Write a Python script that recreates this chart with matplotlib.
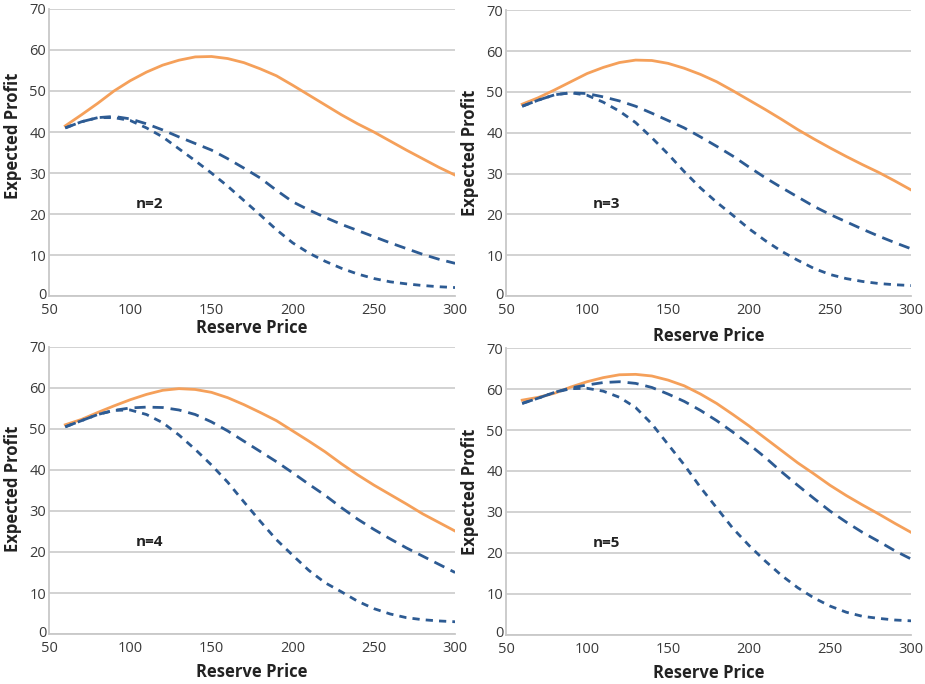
import matplotlib
matplotlib.use("Agg")
import matplotlib.pyplot as plt
import matplotlib.transforms as mtransforms

price = [60, 70, 80, 90, 100, 110, 120, 130, 140, 150, 160, 170, 180,
         190, 200, 210, 220, 230, 240, 250, 260, 270, 280, 290, 300]

# n = 2
n2_solid = [41.5, 44.2, 47, 50, 52.5, 54.6, 56.3, 57.5, 58.3, 58.4, 57.9, 56.9,
            55.4, 53.7, 51.4, 49, 46.6, 44.2, 42, 40, 37.8, 35.6, 33.5, 31.4, 29.5]
n2_long = [41, 42.5, 43.5, 43.8, 43.2, 42, 40.5, 38.8, 37.2, 35.6, 33.5, 31.2,
           28.8, 25.8, 23, 21, 19.2, 17.5, 16, 14.5, 13, 11.6, 10.2, 9, 8]
n2_short = [41, 42.5, 43.5, 43.5, 42.8, 41, 38.8, 35.9, 33, 30, 26.8, 23.3,
            19.8, 16.2, 13, 10.5, 8.5, 6.8, 5.4, 4.3, 3.5, 3, 2.6, 2.3, 2.1]

# n = 3
n3_solid = [47, 48.6, 50.5, 52.5, 54.5, 56, 57.2, 57.8, 57.7, 57, 55.8, 54.3,
            52.5, 50.3, 48, 45.7, 43.3, 40.8, 38.5, 36.3, 34.2, 32.2, 30.3, 28.2, 26]
n3_long = [46.5, 48, 49.3, 49.8, 49.6, 48.8, 47.8, 46.5, 44.8, 43, 41.2, 39,
           36.7, 34.3, 31.6, 29, 26.6, 24.3, 22, 20, 18.2, 16.4, 14.7, 13.1, 11.6]
n3_short = [46.5, 48, 49.3, 49.8, 49.2, 47.5, 45.3, 42.5, 38.8, 34.8, 30.5, 26.5,
            23, 19.8, 16.5, 13.6, 11, 8.8, 6.8, 5.3, 4.3, 3.6, 3.1, 2.8, 2.6]

# n = 4
n4_solid = [51, 52.3, 54, 55.6, 57.1, 58.4, 59.4, 59.8, 59.6, 58.9, 57.6, 55.9,
            54, 52, 49.5, 47, 44.4, 41.5, 38.8, 36.3, 34, 31.7, 29.3, 27.2, 25.1]
n4_long = [50.5, 52, 53.5, 54.5, 55.1, 55.3, 55.2, 54.6, 53.5, 51.7, 49.5, 47,
           44.5, 42, 39.3, 36.5, 33.8, 30.8, 28, 25.5, 23.2, 21, 19, 17, 15]
n4_short = [50.5, 52, 53.5, 54.5, 54.6, 53.5, 51.5, 48.5, 45, 41.2, 37, 32.2,
            27.5, 23, 19.2, 15.5, 12.5, 10.3, 8, 6.2, 4.9, 4, 3.5, 3.2, 3]

# n = 5
n5_solid = [57.3, 58, 59, 60.5, 61.8, 62.8, 63.5, 63.6, 63.2, 62.2, 60.8, 58.8,
            56.5, 53.8, 51, 48, 45, 42, 39.3, 36.5, 34, 31.7, 29.5, 27.2, 25]
n5_long = [56.5, 57.8, 59.2, 60.3, 61, 61.6, 61.8, 61.4, 60.4, 58.8, 57, 54.8,
           52.3, 49.5, 46.5, 43.3, 39.8, 36.5, 33.3, 30.2, 27.5, 25, 22.8, 20.5, 18.5]
n5_short = [56.5, 57.8, 59.2, 60.1, 60.2, 59.5, 58, 55.5, 51.5, 46.5, 41.5, 36,
            31, 26, 21.8, 18, 14.5, 11.5, 9, 7, 5.5, 4.5, 4, 3.6, 3.4]

labels = ["n=2", "n=3", "n=4", "n=5"]
solids = [n2_solid, n3_solid, n4_solid, n5_solid]
longs = [n2_long, n3_long, n4_long, n5_long]
shorts = [n2_short, n3_short, n4_short, n5_short]

ORANGE = "#F5A05A"
BLUE = "#2D5B93"

# axes rectangles and label positions (figure/axes fractions)
rects = [
    [0.053, 0.567, 0.439, 0.420],
    [0.547, 0.567, 0.438, 0.418],
    [0.053, 0.073, 0.439, 0.420],
    [0.547, 0.072, 0.438, 0.419],
]
xlabel_y = [-0.080, -0.108, -0.101, -0.101]
ylabel_y = [0.557, 0.50, 0.505, 0.50]

plt.rcParams["font.family"] = ["Open Sans", "DejaVu Sans"]

fig = plt.figure(figsize=(9.25, 6.84), dpi=100)

for i in range(4):
    ax = fig.add_axes(rects[i])
    ax.plot(price, solids[i], color=ORANGE, lw=2.0, zorder=3,
            solid_joinstyle="round")
    ax.plot(price, longs[i], color=BLUE, lw=2.0, dashes=(4, 2.5), zorder=3)
    ax.plot(price, shorts[i], color=BLUE, lw=2.0, dashes=(2.6, 2.2), zorder=3)

    ax.set_xlim(50, 300)
    ax.set_ylim(0, 70)
    ax.set_xticks([50, 100, 150, 200, 250, 300])
    ax.set_yticks(range(0, 71, 10))
    ax.grid(axis="y", color="#cfcfcf", lw=1.3)
    ax.set_axisbelow(True)
    for s in ["top", "right"]:
        ax.spines[s].set_visible(False)
    for s in ["left", "bottom"]:
        ax.spines[s].set_color("#c8c8c8")
        ax.spines[s].set_linewidth(1.3)
    ax.tick_params(length=0, labelsize=10.5, colors="#3a3a3a")
    ax.tick_params(axis="x", pad=5)
    ax.tick_params(axis="y", pad=2)

    # nudge the "0" label up slightly so it clears the "50" below it
    zero_lbl = ax.yaxis.get_major_ticks()[0].label1
    zero_lbl.set_transform(zero_lbl.get_transform() +
                           mtransforms.ScaledTranslation(0, 2 / 72, fig.dpi_scale_trans))

    ax.set_xlabel("Reserve Price", fontsize=12, fontweight="bold", color="#222222")
    ax.set_ylabel("Expected Profit", fontsize=12, fontweight="bold", color="#222222")
    ax.xaxis.set_label_coords(0.5, xlabel_y[i])
    ax.yaxis.set_label_coords(-0.066, ylabel_y[i])

    ax.text(112, 22.5, labels[i], fontsize=11, fontweight="bold",
            color="#222222", ha="center", va="center")

fig.savefig("out.png", dpi=100)
